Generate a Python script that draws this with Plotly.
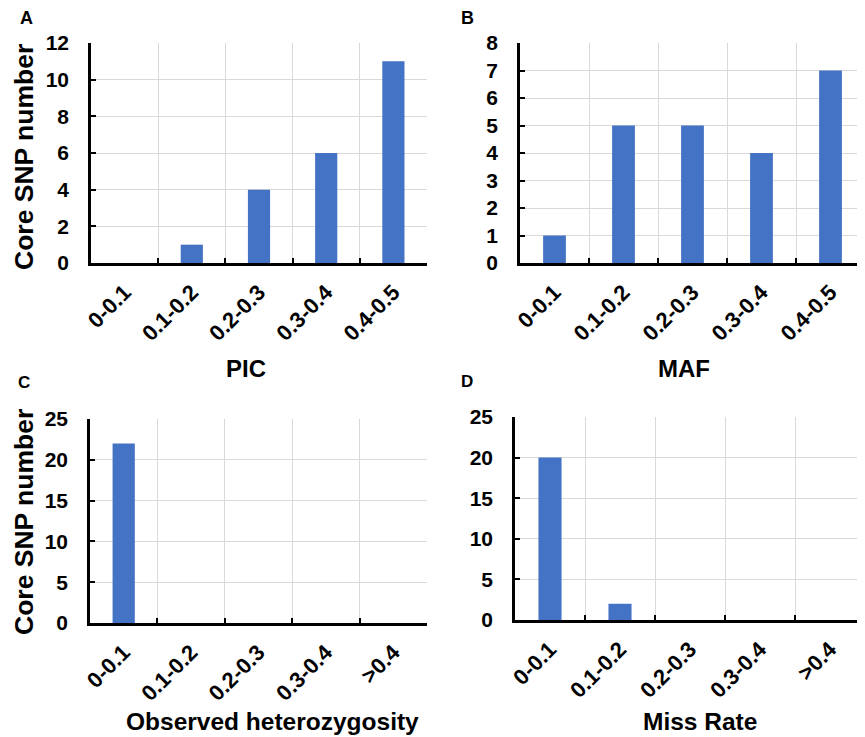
import plotly.graph_objects as go

# The page body has an 8px default margin, so the figure is drawn 8px in from
# the window's top-left corner; positions below are window pixels.
OFF = 8
WIN_W, WIN_H = 865, 737
W, H = WIN_W - OFF, WIN_H - OFF

cats_ab = ["0-0.1", "0.1-0.2", "0.2-0.3", "0.3-0.4", "0.4-0.5"]
cats_cd = ["0-0.1", "0.1-0.2", "0.2-0.3", "0.3-0.4", ">0.4"]
pic_values = [0, 1, 4, 6, 11]
maf_values = [1, 5, 5, 4, 7]
ho_values = [22, 0, 0, 0, 0]
miss_values = [20, 2, 0, 0, 0]

BAR = "#4472C4"
GRID = "#D9D9D9"
FONT = "Liberation Sans, Arial, sans-serif"

def px_x(a, b):
    return [max((a - OFF) / W, 0.0), min((b - OFF) / W, 1.0)]

def px_y(top, bottom):
    return [1 - (bottom - OFF) / H, 1 - (top - OFF) / H]

panels = [
    ("x", "y", cats_ab, pic_values, px_x(91, 427), px_y(43, 263), [0, 12], 2),
    ("x2", "y2", cats_ab, maf_values, px_x(520, 869), px_y(43, 263), [0, 8], 1),
    ("x3", "y3", cats_cd, ho_values, px_x(90, 427), px_y(419, 623), [0, 25], 5),
    ("x4", "y4", cats_cd, miss_values, px_x(515, 876), px_y(417, 620), [0, 25], 5),
]

fig = go.Figure()
layout = dict(
    width=W, height=H,
    margin=dict(l=0, r=0, t=0, b=0),
    paper_bgcolor="white", plot_bgcolor="white",
    showlegend=False,
    font=dict(family=FONT, color="black"),
    bargap=0.67,
)

for xa, ya, cats, vals, xd, yd, yr, dt in panels:
    fig.add_trace(go.Bar(x=cats, y=vals, xaxis=xa, yaxis=ya,
                         marker=dict(color=BAR, line=dict(width=0)),
                         hoverinfo="x+y"))
    xkey = "xaxis" if xa == "x" else "xaxis" + xa[1:]
    ykey = "yaxis" if ya == "y" else "yaxis" + ya[1:]
    layout[xkey] = dict(
        domain=xd, anchor=ya, type="category", automargin=False,
        tickson="boundaries", ticks="inside", ticklen=5, tickwidth=2, tickcolor="black",
        showline=True, linecolor="black", linewidth=2.5,
        showgrid=True, gridcolor=GRID, gridwidth=1,
        tickangle=-45, tickfont=dict(size=22, weight="bold", family=FONT),
        ticklabelstandoff=5,
        fixedrange=True,
    )
    layout[ykey] = dict(
        domain=yd, anchor=xa, range=yr, dtick=dt, tick0=0, automargin=False,
        ticks="inside", ticklen=5, tickwidth=2, tickcolor="black",
        showline=True, linecolor="black", linewidth=2.5,
        showgrid=True, gridcolor=GRID, gridwidth=1,
        zeroline=False,
        tickfont=dict(size=21, weight="bold", family=FONT),
        ticklabelstandoff=15,
        fixedrange=True,
    )

fig.update_layout(**layout)

def ann(text, x, y, size, angle=0):
    fig.add_annotation(text=text, x=(x - OFF) / W, y=1 - (y - OFF) / H,
                       xref="paper", yref="paper",
                       showarrow=False, textangle=angle,
                       font=dict(size=size, family=FONT, weight="bold", color="black"),
                       xanchor="center", yanchor="middle")

ann("A", 26, 18.5, 18)
ann("B", 467, 18.5, 18)
ann("C", 24, 382.5, 17)
ann("D", 467, 381.5, 17)
ann("Core SNP number", 24, 157, 26.5, -90)
ann("Core SNP number", 24, 522, 26.5, -90)
ann("PIC", 246, 368, 24)
ann("MAF", 684, 368, 24)
ann("Observed heterozygosity", 272, 721, 24.5)
ann("Miss Rate", 700, 721, 24.5)

fig.write_html("out.html")
